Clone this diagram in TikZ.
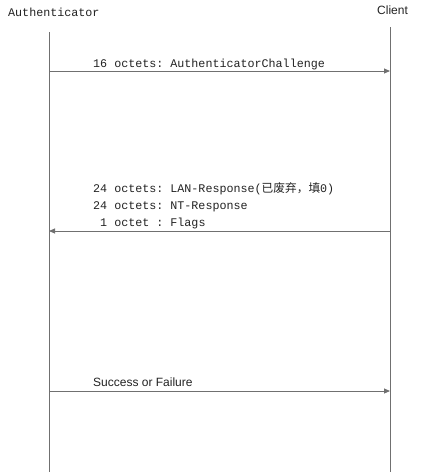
\documentclass[tikz,border=0pt]{standalone}
\usepackage{fontspec}
\setmainfont{Liberation Sans}
\setmonofont{Liberation Mono}
\newfontfamily\cjk{Noto Sans CJK SC}
\usepackage{tikz}
\usetikzlibrary{positioning}
\usetikzlibrary{arrows.meta}
\definecolor{linegray}{HTML}{707070}
\definecolor{textgray}{HTML}{222222}

\begin{document}
\begin{tikzpicture}[x=1pt, y=-1pt,
    life/.style = {draw=linegray, line width=0.9pt},
    msg/.style = {draw=linegray, line width=0.9pt, -{Triangle[length=6pt,width=5pt]}},
    mono/.style = {anchor=base west, inner sep=0pt, text=textgray, font=\ttfamily\fontsize{11.7}{17}\selectfont},
    sans/.style = {anchor=base west, inner sep=0pt, text=textgray, font=\fontsize{12}{14}\selectfont}]
            \useasboundingbox (0,0) rectangle (421,472);
            % Lifelines
            \node[mono] (auth) at (8,16) {Authenticator};
            \node[sans] (client) at (377,14) {Client};
            \coordinate (authtop) at (49,32);
            \coordinate (authbot) at (49,472);
            \coordinate (clitop) at (390,27);
            \coordinate (clibot) at (390,472);
            \draw[life] (authtop) -- (authbot);
            \draw[life] (clitop) -- (clibot);
            % Messages
            \coordinate (a1) at (49,71);
            \coordinate (c1) at (390,71);
            \coordinate (a2) at (49,231);
            \coordinate (c2) at (390,231);
            \coordinate (a3) at (49,391);
            \coordinate (c3) at (390,391);
            \draw[msg] (a1) -- (c1);
            \draw[msg] (c2) -- (a2);
            \draw[msg] (a3) -- (c3);
            % Labels
            \node[mono] (challenge) at (93,67) {16 octets: AuthenticatorChallenge};
            \node[mono] (lanresp) at (93,192) {24 octets: LAN-Response({\cjk 已废弃，填}0)};
            \node[mono] (ntresp) at (93,209) {24 octets: NT-Response};
            \node[mono] (flags) at (93,226) {\ 1 octet : Flags};
            \node[sans] (result) at (93,386) {Success or Failure};
\end{tikzpicture}
\end{document}
